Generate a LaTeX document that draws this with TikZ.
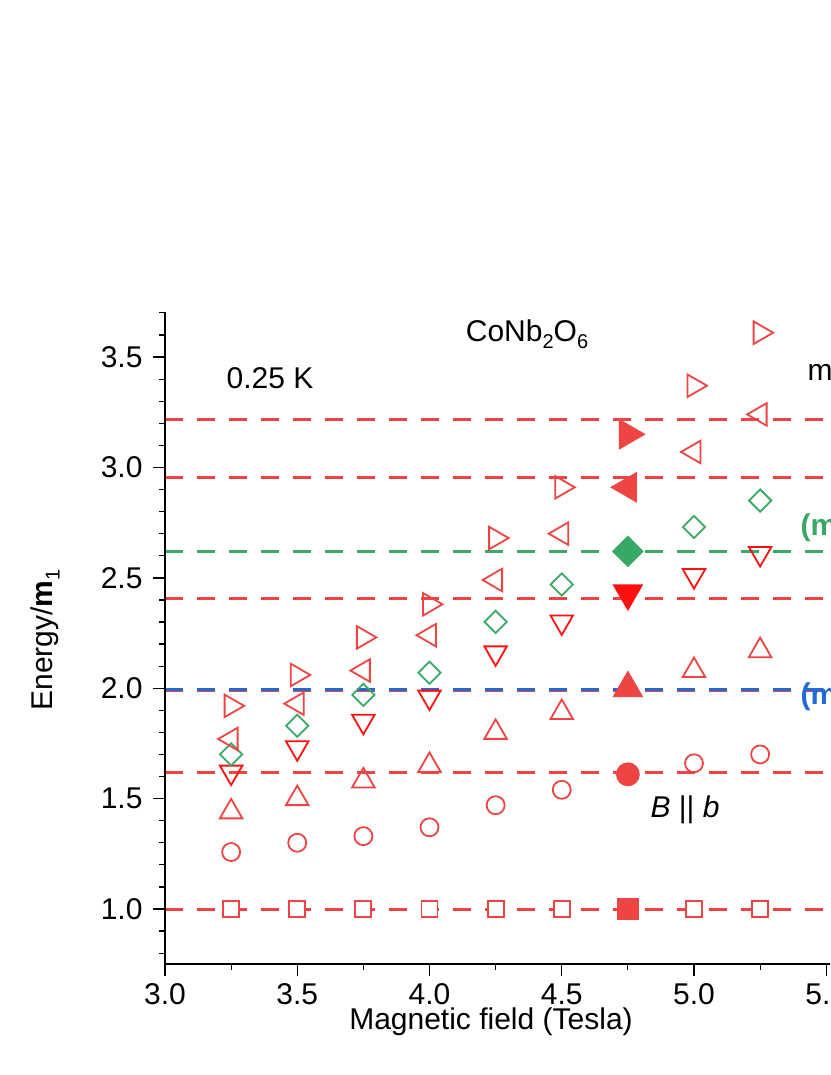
\documentclass[tikz,border=0pt]{standalone}
\usepackage{fontspec}
\setmainfont{Liberation Sans}
\usetikzlibrary{shapes.geometric}
\definecolor{rd}{HTML}{EE4444}
\definecolor{rr}{HTML}{FF1010}
\definecolor{gr}{HTML}{38A865}
\definecolor{bl}{HTML}{1E6BD6}
\tikzset{
 lvl/.style={line width=3pt,dash pattern=on 18pt off 14pt},
 mk/.style={draw,line width=1.8pt,inner sep=0pt},
 ci/.style={mk,circle,minimum size=18pt},
 sq/.style={mk,rectangle,minimum size=16pt},
 tu/.style={mk,regular polygon,regular polygon sides=3,minimum size=26pt},
 td/.style={tu,shape border rotate=180},
 tl/.style={tu,shape border rotate=90},
 tr/.style={tu,shape border rotate=-90},
 di/.style={mk,diamond,minimum size=23pt},
 lab/.style={font=\fontsize{30}{34}\selectfont},
}
\newcommand{\PP}[2]{({165+(#1-3)*264.5},{909-(#2-1)*220.8})}
\newcommand{\sbs}[1]{\raisebox{-0.25em}{\fontsize{20}{22}\selectfont #1}}
\begin{document}
\begin{tikzpicture}[x=1pt,y=-1pt]
\useasboundingbox (0,0) rectangle (830,1075);
\clip (0,0) rectangle (830,1075);
% levels
\foreach \v in {1.0,1.618,1.989,2.405,2.956,3.218}{\draw[rd,lvl] (165,{909-(\v-1)*220.8}) -- (840,{909-(\v-1)*220.8});}
\draw[gr,lvl] (165,{909-1.618*220.8}) -- (840,{909-1.618*220.8});
\draw[bl,lvl] (165,{909-0.996*220.8}) -- (840,{909-0.996*220.8});
% open markers
\foreach \x/\c/\u/\d/\dd/\l/\r in {3.25/1.258/1.44/1.62/1.70/1.77/1.92,3.5/1.30/1.50/1.73/1.83/1.93/2.06,3.75/1.33/1.58/1.85/1.97/2.08/2.23,4.0/1.37/1.65/1.96/2.07/2.24/2.38,4.25/1.47/1.80/2.16/2.30/2.49/2.68,4.5/1.54/1.89/2.30/2.47/2.70/2.91,5.0/1.66/2.08/2.51/2.73/3.07/3.37,5.25/1.70/2.17/2.61/2.85/3.24/3.61}{
 \node[sq,rd,fill=white] at \PP{\x}{1.0} {};
 \node[ci,rd] at \PP{\x}{\c} {};
 \node[tu,rd] at \PP{\x}{\u} {};
 \node[td,rr] at \PP{\x}{\d} {};
 \node[di,gr] at \PP{\x}{\dd} {};
 \node[tl,rd] at \PP{\x}{\l} {};
 \node[tr,rd] at \PP{\x}{\r} {};
}
% filled markers
\node[sq,rd,fill=rd,minimum size=20pt] at \PP{4.75}{1.0} {};
\node[ci,rd,fill=rd,minimum size=22pt] at \PP{4.75}{1.61} {};
\node[tu,rd,fill=rd,minimum size=32pt] at \PP{4.75}{2.0} {};
\node[td,rr,fill=rr,minimum size=32pt] at \PP{4.75}{2.43} {};
\node[di,gr,fill=gr,minimum size=30pt] at \PP{4.75}{2.62} {};
\node[tl,rd,fill=rd,minimum size=32pt] at \PP{4.75}{2.91} {};
\node[tr,rd,fill=rd,minimum size=32pt] at \PP{4.75}{3.15} {};
% axes
\draw[line width=1.6pt] (165,312) -- (165,964) -- (830,964);
\foreach \t/\s in {1.0/1.0,1.5/1.5,2.0/2.0,2.5/2.5,3.0/3.0,3.5/3.5}{
 \draw[line width=1.4pt] (165,{909-(\t-1)*220.8}) -- (153,{909-(\t-1)*220.8});
 \node[lab,anchor=east] at (146,{909-(\t-1)*220.8}) {\s};}
\foreach \t in {0.8,0.9,...,3.75}{\draw[line width=1.2pt] (165,{909-(\t-1)*220.8}) -- (159,{909-(\t-1)*220.8});}
\foreach \t/\s in {3.0/3.0,3.5/3.5,4.0/4.0,4.5/4.5,5.0/5.0,5.5/5.5}{
 \draw[line width=1.4pt] ({165+(\t-3)*264.5},964) -- ({165+(\t-3)*264.5},976);
 \node[lab,anchor=north] at ({165+(\t-3)*264.5},980) {\s};}
\foreach \t in {3.25,3.75,4.25,4.75,5.25}{\draw[line width=1.2pt] ({165+(\t-3)*264.5},964) -- ({165+(\t-3)*264.5},970);}
% labels
\node[lab] (xl) at (491,1022) {Magnetic field (Tesla)};
\node[lab,rotate=90] (yl) at (45,640) {Energy/\textbf{m}\sbs{1}};
\node[lab] (cn) at (527,334) {CoNb\sbs{2}O\sbs{6}};
\node[lab] (tk) at (270,378) {0.25 K};
\node[lab] (bb) at (685,810) {\textit{B} || \textit{b}};
\node[lab,anchor=west] (m1) at (804,372) {m};
\node[lab,anchor=west,text=gr] (m2) at (797,528) {\textbf{(m}};
\node[lab,anchor=west,text=bl] (m3) at (797,697) {\textbf{(m}};
\end{tikzpicture}
\end{document}
